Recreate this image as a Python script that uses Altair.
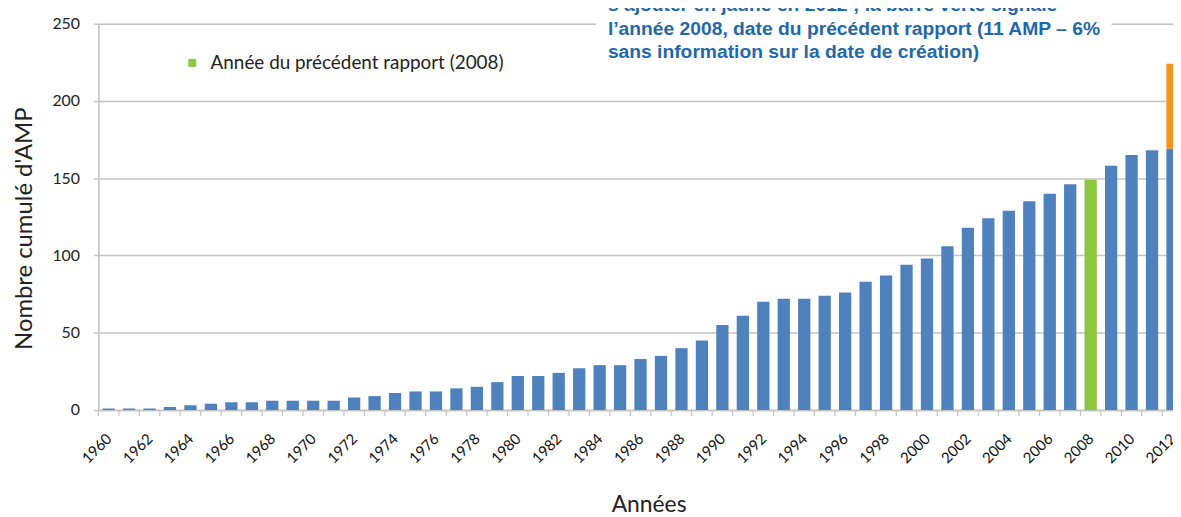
import altair as alt
import pandas as pd

# ---- data ----
years = list(range(1960, 2013))
cumulative = [1, 1, 1, 2, 3, 4, 5, 5, 6, 6,
              6, 6, 8, 9, 11, 12, 12, 14, 15, 18,
              22, 22, 24, 27, 29, 29, 33, 35, 40, 45,
              55, 61, 70, 72, 72, 74, 76, 83, 87, 94,
              98, 106, 118, 124, 129, 135, 140, 146, 149, 158,
              165, 168, 169]
added_2012 = 55
report_year = 2008
last_year = 2012

cat_names = ["Années", "Année du précédent rapport (2008)", "Ajout 2012"]
cat_colors = ["#4f81bd", "#8dc63f", "#f7941d"]

y_ticks = [0, 50, 100, 150, 200, 250]
x_labels = list(range(1960, 2013, 2))

note_lines = [
    "s\u2019ajouter en jaune en 2012 ; la barre verte signale",
    "l\u2019ann\u00e9e 2008, date du pr\u00e9c\u00e9dent rapport (11 AMP \u2013 6%",
    "sans information sur la date de cr\u00e9ation)",
]

# ---- build table ----
rows = []
for yr, v in zip(years, cumulative):
    rows.append({"year": yr, "start": 0, "end": v,
                 "cat": cat_names[1] if yr == report_year else cat_names[0]})
rows.append({"year": last_year, "start": cumulative[-1],
             "end": cumulative[-1] + added_2012, "cat": cat_names[2]})
df = pd.DataFrame(rows)
df_years = pd.DataFrame({"year": years})

FONT = "Lato"
GRID = "#c4c4c4"
W, H = 1082, 389

xscale = alt.Scale(domain=[1959.5, 1959.5 + W / 20.6], nice=False, zero=False)
yscale = alt.Scale(domain=[0, 250], nice=False)

bars = alt.Chart(df).transform_calculate(
    x0="datum.year - 0.3", x1="datum.year + 0.3"
).mark_bar(clip=True).encode(
    x=alt.X("x0:Q", scale=xscale,
            axis=alt.Axis(values=x_labels, format="d", ticks=False,
                          labelAngle=-45, labelAlign="right",
                          labelBaseline="middle", labelPadding=26,
                          labelFontSize=15, labelFont=FONT,
                          labelColor="#111", domainColor=GRID, domainWidth=1.5,
                          grid=False, title="Années", titleFont=FONT,
                          titleFontSize=23, titleFontWeight="normal",
                          titleColor="#222", titleBaseline="middle",
                          titleY=95, titleX=554, titleAlign="center",
                          labelFlush=False, labelOverlap=False)),
    x2="x1:Q",
    y=alt.Y("end:Q", scale=yscale,
            axis=alt.Axis(values=y_ticks, tickSize=5, tickColor=GRID,
                          tickWidth=1.5, labelPadding=14, labelFontSize=16,
                          labelFont=FONT, labelColor="#222", domainColor=GRID,
                          domainWidth=1.5, gridColor=GRID, gridWidth=1.5,
                          title="Nombre cumulé d'AMP", titleFont=FONT,
                          titleFontSize=24, titleFontWeight="normal",
                          titleColor="#222", titleBaseline="middle",
                          titleX=-74, titleY=206)),
    y2="start:Q",
    color=alt.Color("cat:N",
                    scale=alt.Scale(domain=cat_names, range=cat_colors),
                    legend=alt.Legend(values=[cat_names[1]], orient="none",
                                      legendX=85, legendY=30, title=None,
                                      symbolType="square", symbolSize=64,
                                      symbolStrokeWidth=0, labelFont=FONT,
                                      labelFontSize=19, labelColor="#222",
                                      labelOffset=9, labelLimit=500,
                                      padding=0)),
)

ticks = alt.Chart(df_years).transform_calculate(
    b="datum.year - 0.5"
).mark_rule(color=GRID, strokeWidth=1.2).encode(
    x=alt.X("b:Q", scale=xscale), y=alt.value(H), y2=alt.value(H + 6)
)

box = alt.Chart(alt.Data(values=[{}])).mark_rect(color="white").encode(
    x=alt.value(501), x2=alt.value(1020), y=alt.value(-40), y2=alt.value(43)
)

note = alt.Chart(alt.Data(values=[{}])).mark_text(
    align="left", baseline="middle", lineHeight=24, font="Liberation Sans",
    fontWeight="bold", fontSize=19.4, color="#1f68aa"
).encode(x=alt.value(513), y=alt.value(-19), text=alt.value(note_lines))

chart = alt.layer(bars, ticks, box, note).properties(
    width=W, height=H,
    autosize=alt.AutoSizeParams(type="none"),
    padding={"left": 91, "top": 14, "right": 0, "bottom": 106},
).configure_view(stroke=None).configure(background="white")

chart.save("out.html", embed_options={"renderer": "svg", "actions": False})
